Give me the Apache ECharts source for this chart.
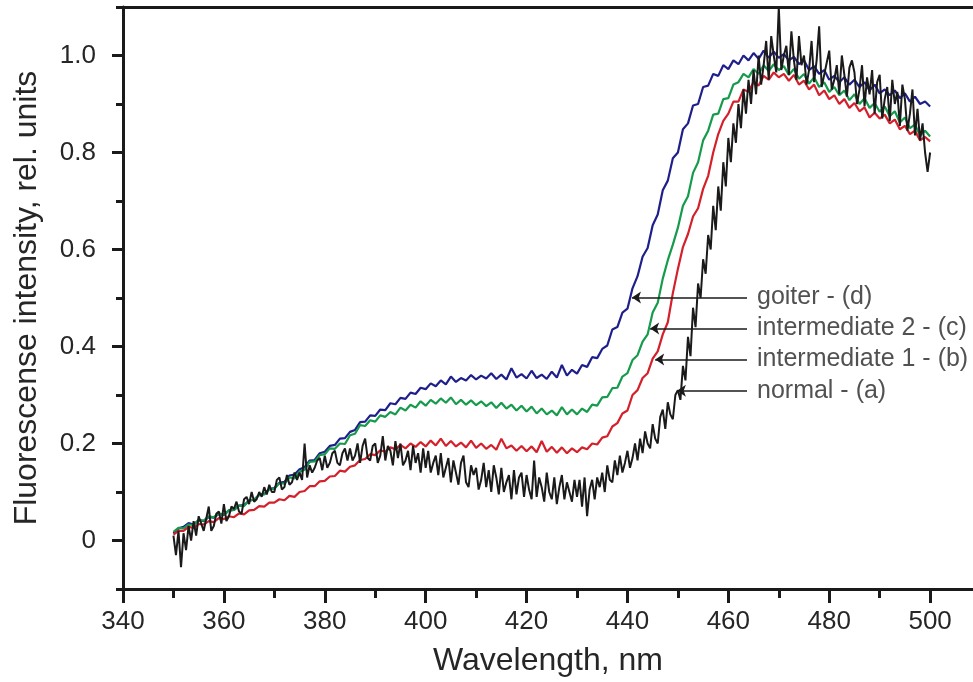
<!DOCTYPE html>
<html><head><meta charset="utf-8">
<script src="https://cdn.jsdelivr.net/npm/echarts@6/dist/echarts.min.js"></script>
<style>html,body{margin:0;padding:0;background:#fff}#c{width:973px;height:682px}</style>
</head><body><div id="c"></div>
<script>
// wavelength sampling (nm)
const WL_START = 350;
const STEP_COLOR = 1;
const STEP_BLACK = 0.5;

// goiter - (d), 350..500 nm step 1
const goiter = [
0.015,0.025,0.028,0.036,0.033,0.042,0.04,0.048,0.047,0.055,
0.053,0.062,0.063,0.072,0.073,0.082,0.084,0.094,0.096,0.106,
0.108,0.119,0.121,0.134,0.136,0.147,0.151,0.165,0.166,0.18,
0.183,0.195,0.197,0.21,0.211,0.224,0.228,0.244,0.245,0.258,
0.257,0.27,0.269,0.283,0.281,0.294,0.292,0.305,0.302,0.315,
0.312,0.324,0.318,0.33,0.322,0.338,0.327,0.335,0.33,0.341,
0.332,0.34,0.334,0.345,0.333,0.342,0.332,0.355,0.336,0.343,
0.334,0.35,0.335,0.342,0.333,0.348,0.336,0.362,0.34,0.352,
0.344,0.362,0.358,0.378,0.376,0.395,0.402,0.435,0.44,0.47,
0.478,0.52,0.545,0.585,0.603,0.65,0.672,0.722,0.742,0.788,
0.8,0.848,0.86,0.897,0.9,0.935,0.938,0.962,0.958,0.98,
0.972,0.99,0.982,1.0,0.99,1.005,0.993,1.01,0.995,1.008,
0.995,1.003,0.99,0.997,0.982,0.99,0.97,0.978,0.962,0.97,
0.95,0.958,0.945,0.955,0.94,0.95,0.935,0.945,0.928,0.94,
0.922,0.93,0.918,0.928,0.912,0.922,0.905,0.915,0.9,0.905,
0.895];

// intermediate 2 - (c), 350..500 nm step 1
const intermediate2 = [
0.018,0.026,0.025,0.033,0.032,0.042,0.041,0.05,0.048,0.056,
0.053,0.062,0.063,0.072,0.071,0.083,0.084,0.094,0.095,0.106,
0.107,0.118,0.117,0.13,0.128,0.142,0.146,0.162,0.163,0.176,
0.178,0.19,0.189,0.2,0.199,0.217,0.22,0.238,0.236,0.248,
0.245,0.258,0.255,0.265,0.26,0.274,0.268,0.28,0.274,0.287,
0.278,0.29,0.282,0.293,0.284,0.295,0.281,0.29,0.28,0.289,
0.279,0.287,0.277,0.285,0.273,0.284,0.272,0.28,0.268,0.278,
0.266,0.276,0.262,0.272,0.26,0.268,0.258,0.275,0.26,0.27,
0.26,0.272,0.265,0.28,0.278,0.295,0.296,0.314,0.315,0.338,
0.345,0.372,0.382,0.41,0.425,0.47,0.49,0.54,0.578,0.61,
0.645,0.69,0.71,0.758,0.78,0.825,0.845,0.878,0.88,0.91,
0.912,0.94,0.945,0.962,0.955,0.972,0.962,0.98,0.968,0.982,
0.97,0.978,0.96,0.972,0.952,0.962,0.942,0.955,0.935,0.945,
0.925,0.935,0.918,0.928,0.908,0.92,0.9,0.912,0.892,0.902,
0.884,0.895,0.875,0.885,0.862,0.872,0.85,0.858,0.835,0.845,
0.833];

// intermediate 1 - (b), 350..500 nm step 1
const intermediate1 = [
0.012,0.02,0.02,0.028,0.026,0.034,0.033,0.04,0.038,0.046,
0.044,0.05,0.048,0.056,0.054,0.062,0.063,0.071,0.07,0.078,
0.078,0.085,0.083,0.092,0.09,0.1,0.102,0.112,0.112,0.122,
0.123,0.132,0.133,0.144,0.142,0.152,0.155,0.166,0.168,0.178,
0.176,0.186,0.183,0.192,0.188,0.197,0.19,0.2,0.193,0.203,
0.194,0.206,0.196,0.21,0.195,0.205,0.194,0.202,0.192,0.206,
0.191,0.2,0.189,0.197,0.187,0.21,0.19,0.196,0.185,0.195,
0.184,0.194,0.182,0.205,0.183,0.193,0.181,0.192,0.18,0.19,
0.182,0.192,0.188,0.2,0.198,0.212,0.215,0.235,0.242,0.262,
0.268,0.3,0.31,0.335,0.345,0.375,0.39,0.425,0.45,0.51,
0.56,0.605,0.632,0.668,0.685,0.725,0.752,0.8,0.838,0.865,
0.88,0.905,0.905,0.93,0.925,0.945,0.938,0.958,0.95,0.965,
0.955,0.962,0.948,0.96,0.94,0.948,0.93,0.94,0.918,0.928,
0.91,0.918,0.9,0.91,0.892,0.902,0.885,0.893,0.872,0.882,
0.87,0.878,0.86,0.868,0.848,0.855,0.838,0.845,0.825,0.832,
0.823];

// normal - (a), 350..500 nm step 0.5
const normal = [
0.01,-0.03,0.02,-0.055,0.015,-0.02,0.03,0.0,0.04,0.01,
0.05,0.035,0.02,0.045,0.07,0.02,0.03,0.055,0.06,0.035,
0.075,0.04,0.05,0.07,0.065,0.08,0.06,0.055,0.085,0.09,
0.075,0.1,0.08,0.085,0.1,0.09,0.11,0.095,0.115,0.1,
0.1,0.125,0.13,0.105,0.11,0.135,0.115,0.12,0.14,0.125,
0.14,0.125,0.2,0.13,0.155,0.14,0.15,0.165,0.17,0.145,
0.175,0.15,0.16,0.18,0.185,0.16,0.155,0.18,0.19,0.165,
0.19,0.165,0.175,0.2,0.16,0.195,0.21,0.17,0.165,0.195,
0.2,0.16,0.175,0.215,0.165,0.195,0.185,0.155,0.205,0.17,
0.2,0.155,0.165,0.185,0.145,0.195,0.16,0.18,0.14,0.19,
0.15,0.185,0.14,0.16,0.175,0.135,0.18,0.13,0.15,0.17,
0.12,0.165,0.14,0.115,0.16,0.175,0.12,0.11,0.155,0.135,
0.15,0.105,0.125,0.16,0.11,0.145,0.1,0.155,0.13,0.095,
0.15,0.1,0.12,0.135,0.085,0.145,0.095,0.13,0.14,0.09,
0.135,0.105,0.085,0.165,0.09,0.13,0.11,0.08,0.14,0.1,
0.085,0.13,0.075,0.11,0.135,0.085,0.12,0.1,0.08,0.125,
0.09,0.125,0.07,0.13,0.05,0.105,0.125,0.085,0.13,0.11,
0.14,0.1,0.155,0.125,0.12,0.165,0.135,0.175,0.14,0.16,
0.185,0.15,0.17,0.2,0.165,0.21,0.18,0.225,0.2,0.19,
0.24,0.21,0.2,0.255,0.27,0.23,0.285,0.26,0.25,0.3,
0.31,0.29,0.36,0.33,0.42,0.38,0.48,0.44,0.53,0.5,
0.58,0.55,0.63,0.6,0.69,0.64,0.73,0.68,0.78,0.73,
0.83,0.78,0.86,0.82,0.9,0.85,0.93,0.88,0.95,0.9,
0.97,0.92,1.0,0.94,0.98,1.03,0.95,1.04,1.0,0.965,
1.1,0.97,1.0,1.02,0.96,1.05,0.99,0.95,1.04,0.98,
1.0,0.94,0.97,1.03,0.945,0.99,1.06,0.935,0.96,0.985,
1.01,0.93,0.95,0.98,0.92,1.0,0.96,0.915,0.975,0.99,
0.965,0.9,0.93,0.98,0.895,0.955,0.92,0.97,0.88,0.945,
0.96,0.87,0.91,0.935,0.865,0.95,0.9,0.925,0.855,0.94,
0.91,0.845,0.88,0.93,0.835,0.89,0.825,0.86,0.8,0.76,
0.8];

// axis ticks
const xTickLabels = [340,360,380,400,420,440,460,480,500];
const xMinorTicks = [350,370,390,410,430,450,470,490];
const yTickLabels = [0,0.2,0.4,0.6,0.8,1.0];
const yMinorTicks = [-0.1,0.1,0.3,0.5,0.7,0.9,1.1];

// annotations (data coordinates)
const annoNames = ['goiter - (d)','intermediate 2 - (c)','intermediate 1 - (b)','normal - (a)'];
const annoY = [0.501,0.437,0.373,0.309];
const annoTipX = [440.9,444.5,445.5,449.8];
const annoTailX = 463.7;

const FONT = "'Liberation Sans', Arial, Helvetica, sans-serif";
const TXT = '#262626';
const AX = '#1a1a1a';

function toPairs(arr, step){ return arr.map((v,i)=>[WL_START + i*step, v]); }

const chart = echarts.init(document.getElementById('c'), null, {renderer:'canvas'});
const X_MIN = 340, X_MAX = 508.5, Y_MIN = -0.1, Y_MAX = 1.1;

const option = {
  animation: false,
  backgroundColor: '#fff',
  grid: {left: 123, right: 0, top: 7, bottom: 93, containLabel: false, outerBoundsMode: 'none'},
  xAxis: [
    {type:'value', position:'bottom', min:X_MIN, max:X_MAX, splitLine:{show:false},
     axisLine:{show:true, onZero:false, lineStyle:{color:AX, width:3}},
     axisTick:{show:true, customValues:xTickLabels, length:14, lineStyle:{color:AX, width:3}},
     axisLabel:{show:true, customValues:xTickLabels, margin:20, fontSize:26, color:TXT, fontFamily:FONT},
     name:'Wavelength, nm', nameLocation:'middle', nameGap:56,
     nameTextStyle:{fontSize:32, color:TXT, fontFamily:FONT}},
    {type:'value', position:'bottom', min:X_MIN, max:X_MAX, splitLine:{show:false},
     axisLine:{show:false, onZero:false},
     axisTick:{show:true, customValues:xMinorTicks, length:9, lineStyle:{color:AX, width:3}},
     axisLabel:{show:false}},
    {type:'value', position:'top', min:X_MIN, max:X_MAX, splitLine:{show:false},
     axisLine:{show:true, onZero:false, lineStyle:{color:AX, width:3}},
     axisTick:{show:false}, axisLabel:{show:false}}
  ],
  yAxis: [
    {type:'value', position:'left', min:Y_MIN, max:Y_MAX, splitLine:{show:false},
     axisLine:{show:true, onZero:false, lineStyle:{color:AX, width:3}},
     axisTick:{show:true, customValues:yTickLabels, length:11, lineStyle:{color:AX, width:3}},
     axisLabel:{show:true, customValues:yTickLabels, margin:27, fontSize:26, color:TXT, fontFamily:FONT,
       formatter: v => (Math.abs(v) < 1e-9 ? '0' : v.toFixed(1))},
     name:'Fluorescense intensity, rel. units', nameLocation:'middle', nameGap:80,
     nameTextStyle:{fontSize:32, color:TXT, fontFamily:FONT}},
    {type:'value', position:'left', min:Y_MIN, max:Y_MAX, splitLine:{show:false},
     axisLine:{show:false, onZero:false},
     axisTick:{show:true, customValues:yMinorTicks, length:7, lineStyle:{color:AX, width:3}},
     axisLabel:{show:false}}
  ],
  series: [
    {name:'goiter - (d)', type:'line', data:toPairs(goiter, STEP_COLOR), symbol:'none', showSymbol:false,
     lineStyle:{color:'#1f1f8c', width:2.2}, z:2},
    {name:'intermediate 2 - (c)', type:'line', data:toPairs(intermediate2, STEP_COLOR), symbol:'none', showSymbol:false,
     lineStyle:{color:'#169a4c', width:2.2}, z:3},
    {name:'intermediate 1 - (b)', type:'line', data:toPairs(intermediate1, STEP_COLOR), symbol:'none', showSymbol:false,
     lineStyle:{color:'#d4202a', width:2.2}, z:4},
    {name:'normal - (a)', type:'line', data:toPairs(normal, STEP_BLACK), symbol:'none', showSymbol:false,
     lineStyle:{color:'#1a1a1a', width:2}, z:5,
     markLine:{silent:true, symbol:['none','arrow'], symbolSize:9, animation:false,
       lineStyle:{color:'#1a1a1a', width:1.5, type:'solid'}, label:{show:false},
       data: annoNames.map((n,i)=>[{coord:[annoTailX, annoY[i]]},{coord:[annoTipX[i], annoY[i]]}])}},
    {name:'labels', type:'scatter', symbolSize:0, silent:true, z:6,
     data: annoNames.map((n,i)=>({value:[annoTailX, annoY[i]], name:n})),
     label:{show:true, position:'right', distance:10, formatter: p => p.name,
       fontSize:25, color:TXT, fontFamily:FONT}}
  ]
};
chart.setOption(option);
</script>
</body></html>
